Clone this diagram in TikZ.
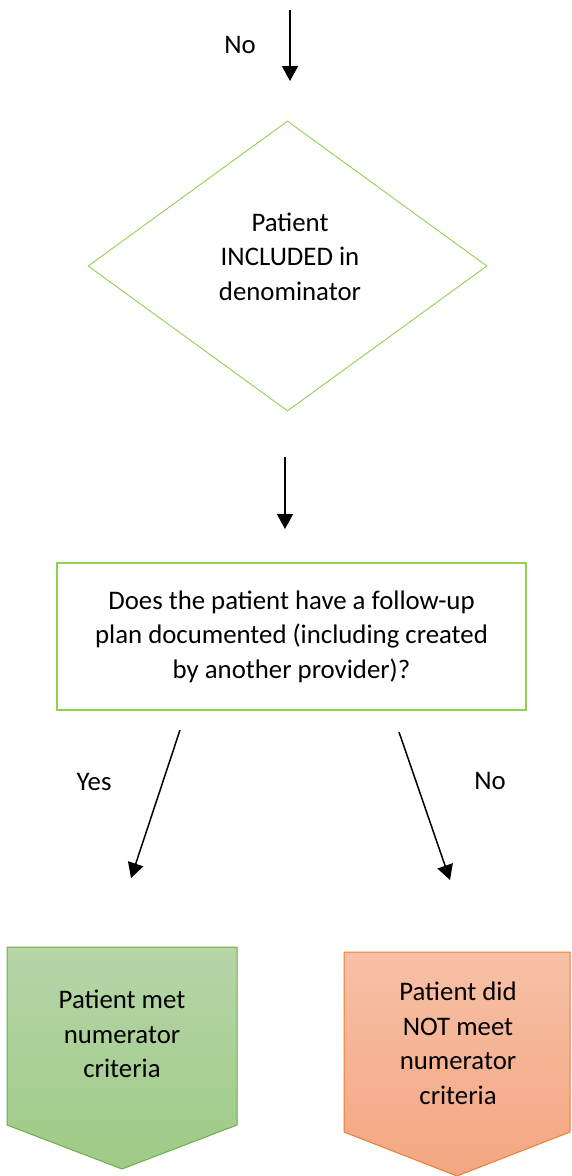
\documentclass[tikz,border=0pt]{standalone}
\usepackage{fontspec}
\setmainfont{Carlito}
\usetikzlibrary{shapes.geometric,arrows.meta}
\definecolor{lgreen}{HTML}{92D050}
\definecolor{dgreen}{HTML}{70AD47}
\definecolor{gtop}{HTML}{B6D5A8}
\definecolor{gbot}{HTML}{9FCA86}
\definecolor{orline}{HTML}{ED7D31}
\definecolor{otop}{HTML}{F7C0A6}
\definecolor{obot}{HTML}{F4A682}
\tikzset{
  txt/.style={font=\fontsize{26.8}{34.5}\selectfont, align=center, inner sep=0pt},
  flow/.style={line width=1.5pt, -{Triangle[width=16pt,length=15pt]}},
}
\begin{document}
\begin{tikzpicture}[x=1pt,y=-1pt]
\useasboundingbox (0,0) rectangle (571,1176);
\clip (0,0) rectangle (571,1176);
\fill[white] (0,0) rectangle (571,1176);

% top arrow
\coordinate (a0s) at (290,10);
\coordinate (a0e) at (290,81);
\draw[flow] (a0s) -- (a0e);
\node[txt] (lno0) at (240,45) {No};

% diamond
\node[diamond, draw=lgreen, line width=0.9pt, minimum width=399pt, minimum height=290pt, inner sep=0pt] (dia) at (287.5,266) {};
\node[txt] (diatxt) at (290,256.5) {Patient\\INCLUDED in\\denominator};

% arrow 2
\coordinate (a1s) at (285,457);
\coordinate (a1e) at (285,529);
\draw[flow] (a1s) -- (a1e);

% rectangle
\node[txt, draw=lgreen, line width=1.6pt, minimum width=469pt, minimum height=147pt] (q) at (291.5,636.5)
  {Does the patient have a follow-up\\plan documented (including created\\by another provider)?};

% yes / no arrows
\coordinate (ys) at (180,730);
\coordinate (ye) at (131,878);
\coordinate (ns) at (399,732);
\coordinate (ne) at (450,880);
\draw[flow] (ys) -- (ye);
\draw[flow] (ns) -- (ne);
\node[txt] (lyes) at (94,782) {Yes};
\node[txt] (lno1) at (490,781) {No};

% green pentagon
\shade[top color=gtop, bottom color=gbot] (7,947) -- (237,947) -- (237,1125) -- (122,1169) -- (7,1125) -- cycle;
\draw[dgreen, line width=1pt] (7,947) -- (237,947) -- (237,1125) -- (122,1169) -- (7,1125) -- cycle;
\node[txt] (met) at (122,1034) {Patient met\\numerator\\criteria};

% orange pentagon
\shade[top color=otop, bottom color=obot] (344,952) -- (570,952) -- (570,1132) -- (457,1176) -- (344,1132) -- cycle;
\draw[orline, line width=1pt] (344,952) -- (570,952) -- (570,1132) -- (457,1176) -- (344,1132) -- cycle;
\node[txt] (notmet) at (458,1043.5) {Patient did\\NOT meet\\numerator\\criteria};
\end{tikzpicture}
\end{document}
